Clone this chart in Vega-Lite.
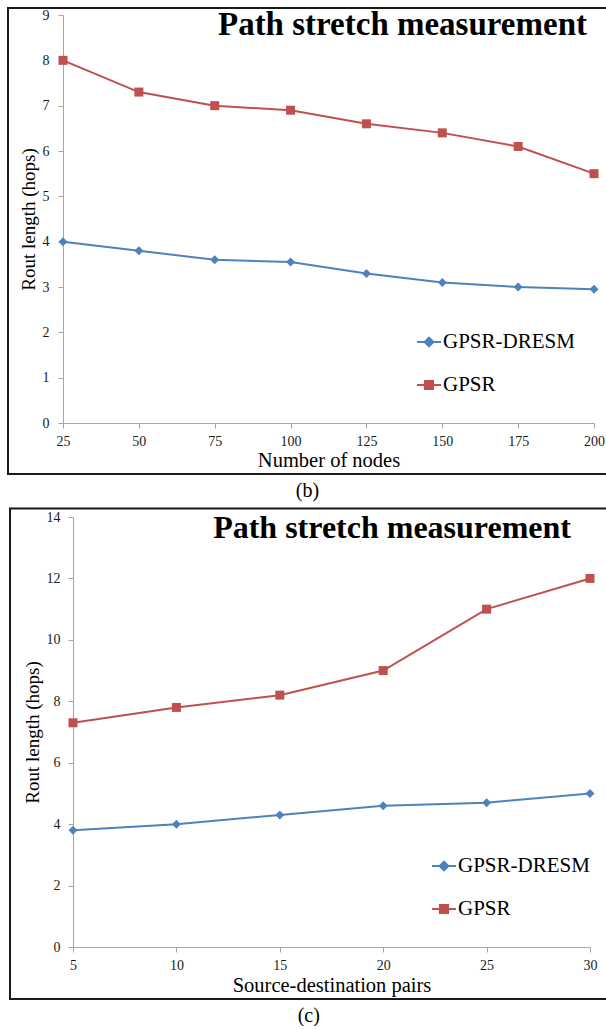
{
  "$schema": "https://vega.github.io/schema/vega-lite/v6.json",
  "padding": {"left": 7, "top": 7, "right": 0, "bottom": 0},
  "background": "white",
  "config": {
    "font": "Liberation Serif",
    "view": {"stroke": null},
    "axis": {
      "grid": false,
      "domainColor": "#A6A6A6",
      "tickColor": "#A6A6A6",
      "tickSize": 5,
      "labelFont": "Liberation Serif",
      "labelFontSize": 14,
      "labelColor": "#1a1a1a",
      "titleFont": "Liberation Serif",
      "titleFontSize": 19,
      "titleFontWeight": "normal",
      "titleColor": "#000000"
    },
    "title": {"font": "Liberation Serif", "fontSize": 20, "fontWeight": "normal", "color": "#000000"}
  },
  "datasets": {
    "b": [
      {"nodes": 25, "series": "GPSR-DRESM", "hops": 4.0},
      {"nodes": 50, "series": "GPSR-DRESM", "hops": 3.8},
      {"nodes": 75, "series": "GPSR-DRESM", "hops": 3.6},
      {"nodes": 100, "series": "GPSR-DRESM", "hops": 3.55},
      {"nodes": 125, "series": "GPSR-DRESM", "hops": 3.3},
      {"nodes": 150, "series": "GPSR-DRESM", "hops": 3.1},
      {"nodes": 175, "series": "GPSR-DRESM", "hops": 3.0},
      {"nodes": 200, "series": "GPSR-DRESM", "hops": 2.95},
      {"nodes": 25, "series": "GPSR", "hops": 8.0},
      {"nodes": 50, "series": "GPSR", "hops": 7.3},
      {"nodes": 75, "series": "GPSR", "hops": 7.0},
      {"nodes": 100, "series": "GPSR", "hops": 6.9},
      {"nodes": 125, "series": "GPSR", "hops": 6.6},
      {"nodes": 150, "series": "GPSR", "hops": 6.4},
      {"nodes": 175, "series": "GPSR", "hops": 6.1},
      {"nodes": 200, "series": "GPSR", "hops": 5.5}
    ],
    "c": [
      {"pairs": 5, "series": "GPSR-DRESM", "hops": 3.8},
      {"pairs": 10, "series": "GPSR-DRESM", "hops": 4.0},
      {"pairs": 15, "series": "GPSR-DRESM", "hops": 4.3},
      {"pairs": 20, "series": "GPSR-DRESM", "hops": 4.6},
      {"pairs": 25, "series": "GPSR-DRESM", "hops": 4.7},
      {"pairs": 30, "series": "GPSR-DRESM", "hops": 5.0},
      {"pairs": 5, "series": "GPSR", "hops": 7.3},
      {"pairs": 10, "series": "GPSR", "hops": 7.8},
      {"pairs": 15, "series": "GPSR", "hops": 8.2},
      {"pairs": 20, "series": "GPSR", "hops": 9.0},
      {"pairs": 25, "series": "GPSR", "hops": 11.0},
      {"pairs": 30, "series": "GPSR", "hops": 12.0}
    ],
    "titles": [{"t": "Path stretch measurement"}]
  },
  "resolve": {
    "scale": {"color": "independent"},
    "legend": {"color": "independent"}
  },
  "vconcat": [
    {
      "width": 531,
      "height": 408,
      "title": {"text": "(b)", "orient": "bottom", "anchor": "middle", "frame": "bounds", "offset": 6},
      "layer": [
        {
          "data": {"values": [{"k": 1}]},
          "mark": {"type": "rect", "fill": null, "stroke": "#1a1a1a", "strokeWidth": 2},
          "encoding": {
            "x": {"datum": 6.874, "type": "quantitative", "scale": {"domain": [25, 200], "nice": false, "zero": false}},
            "x2": {"datum": 204.3},
            "y": {"datum": 9.154, "type": "quantitative", "scale": {"domain": [0, 9], "nice": false}},
            "y2": {"datum": -1.125}
          }
        },
        {
          "data": {"name": "b"},
          "mark": {"type": "line", "strokeWidth": 2},
          "encoding": {
            "x": {"field": "nodes", "type": "quantitative", "scale": {"domain": [25, 200], "nice": false, "zero": false},
                  "axis": {"title": "Number of nodes", "titleFontSize": 20.5, "values": [25, 50, 75, 100, 125, 150, 175, 200], "labelFlush": false, "labelOverlap": false, "labelPadding": 6, "titlePadding": 2}},
            "y": {"field": "hops", "type": "quantitative", "scale": {"domain": [0, 9], "nice": false},
                  "axis": {"title": "Rout length (hops)", "values": [0, 1, 2, 3, 4, 5, 6, 7, 8, 9], "labelPadding": 9, "titlePadding": 4}},
            "color": {"field": "series", "type": "nominal",
                      "scale": {"domain": ["GPSR-DRESM", "GPSR"], "range": ["#4F81BD", "#C0504D"]},
                      "legend": {"orient": "none", "legendX": 353, "legendY": 314, "title": null, "padding": 0,
                                 "symbolSize": 576, "labelFontSize": 21, "labelFont": "Liberation Serif", "labelColor": "#000000",
                                 "rowPadding": 20, "labelOffset": 1, "symbolStrokeWidth": 2,
                                 "encode": {"symbols": {"update": {
                                   "shape": {"signal": "datum.value === 'GPSR' ? 'M-1,0L1,0M-0.34,-0.34L0.34,-0.34L0.34,0.34L-0.34,0.34Z' : 'M-1,0L1,0M0,-0.36L0.36,0L0,0.36L-0.36,0Z'"},
                                   "fill": {"signal": "datum.value === 'GPSR' ? '#C0504D' : '#4F81BD'"},
                                   "strokeWidth": {"value": 2}
                                 }}}}}
          }
        },
        {
          "data": {"name": "b"},
          "mark": {"type": "point", "filled": true, "opacity": 1, "size": 81},
          "encoding": {
            "x": {"field": "nodes", "type": "quantitative"},
            "y": {"field": "hops", "type": "quantitative"},
            "color": {"field": "series", "type": "nominal",
                      "scale": {"domain": ["GPSR-DRESM", "GPSR"], "range": ["#4F81BD", "#C0504D"]}, "legend": null},
            "shape": {"field": "series", "type": "nominal",
                      "scale": {"domain": ["GPSR-DRESM", "GPSR"], "range": ["diamond", "square"]}, "legend": null}
          }
        },
        {
          "data": {"name": "titles"},
          "mark": {"type": "text", "align": "right", "baseline": "alphabetic", "dx": -7, "dy": 20, "fontSize": 33, "fontWeight": "bold", "font": "Liberation Serif", "color": "#000000"},
          "encoding": {
            "x": {"datum": 200, "type": "quantitative"},
            "y": {"datum": 9, "type": "quantitative"},
            "text": {"field": "t"}
          }
        }
      ]
    },
    {
      "width": 527,
      "height": 430,
      "title": {"text": "(c)", "orient": "bottom", "anchor": "middle", "frame": "bounds", "offset": 6},
      "layer": [
        {
          "data": {"values": [{"k": 1}]},
          "mark": {"type": "rect", "fill": null, "stroke": "#1a1a1a", "strokeWidth": 2},
          "encoding": {
            "x": {"datum": 1.954, "type": "quantitative", "scale": {"domain": [5, 30], "nice": false, "zero": false, "range": [10, 527]}},
            "x2": {"datum": 30.85},
            "y": {"datum": 14.277, "type": "quantitative", "scale": {"domain": [0, 14], "nice": false}},
            "y2": {"datum": -1.693}
          }
        },
        {
          "data": {"name": "c"},
          "mark": {"type": "line", "strokeWidth": 2},
          "encoding": {
            "x": {"field": "pairs", "type": "quantitative", "scale": {"domain": [5, 30], "nice": false, "zero": false, "range": [10, 527]},
                  "axis": {"title": "Source-destination pairs", "titleFontSize": 20.5, "values": [5, 10, 15, 20, 25, 30], "labelFlush": false, "labelOverlap": false, "labelPadding": 6, "titlePadding": 3}},
            "y": {"field": "hops", "type": "quantitative", "scale": {"domain": [0, 14], "nice": false},
                  "axis": {"title": "Rout length (hops)", "values": [0, 2, 4, 6, 8, 10, 12, 14], "labelPadding": 8, "titlePadding": 4, "offset": -10}},
            "color": {"field": "series", "type": "nominal",
                      "scale": {"domain": ["GPSR-DRESM", "GPSR"], "range": ["#4F81BD", "#C0504D"]},
                      "legend": {"orient": "none", "legendX": 368, "legendY": 336, "title": null, "padding": 0,
                                 "symbolSize": 576, "labelFontSize": 21, "labelFont": "Liberation Serif", "labelColor": "#000000",
                                 "rowPadding": 20, "labelOffset": 1, "symbolStrokeWidth": 2,
                                 "encode": {"symbols": {"update": {
                                   "shape": {"signal": "datum.value === 'GPSR' ? 'M-1,0L1,0M-0.34,-0.34L0.34,-0.34L0.34,0.34L-0.34,0.34Z' : 'M-1,0L1,0M0,-0.36L0.36,0L0,0.36L-0.36,0Z'"},
                                   "fill": {"signal": "datum.value === 'GPSR' ? '#C0504D' : '#4F81BD'"},
                                   "strokeWidth": {"value": 2}
                                 }}}}}
          }
        },
        {
          "data": {"name": "c"},
          "mark": {"type": "point", "filled": true, "opacity": 1, "size": 81},
          "encoding": {
            "x": {"field": "pairs", "type": "quantitative"},
            "y": {"field": "hops", "type": "quantitative"},
            "color": {"field": "series", "type": "nominal",
                      "scale": {"domain": ["GPSR-DRESM", "GPSR"], "range": ["#4F81BD", "#C0504D"]}, "legend": null},
            "shape": {"field": "series", "type": "nominal",
                      "scale": {"domain": ["GPSR-DRESM", "GPSR"], "range": ["diamond", "square"]}, "legend": null}
          }
        },
        {
          "data": {"name": "titles"},
          "mark": {"type": "text", "align": "right", "baseline": "alphabetic", "dx": -19, "dy": 21, "fontSize": 32, "fontWeight": "bold", "font": "Liberation Serif", "color": "#000000"},
          "encoding": {
            "x": {"datum": 30, "type": "quantitative"},
            "y": {"datum": 14, "type": "quantitative"},
            "text": {"field": "t"}
          }
        }
      ]
    }
  ],
  "spacing": 6
}
